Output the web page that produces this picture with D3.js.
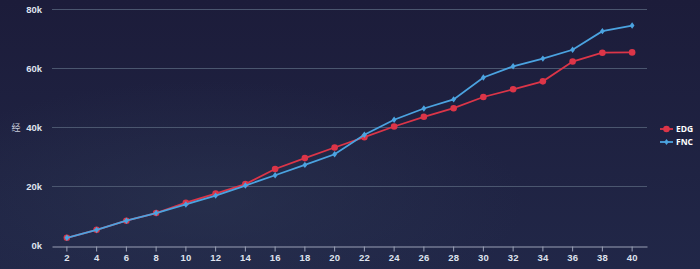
<!DOCTYPE html>
<html>
<head>
<meta charset="utf-8">
<script src="https://cdn.jsdelivr.net/npm/d3@7/dist/d3.min.js"></script>
<style>
  html, body { margin: 0; padding: 0; background: #1c1f3d; }
  svg { display: block; font-family: "Open Sans", "DejaVu Sans", sans-serif; }
</style>
</head>
<body>
<svg id="chart" width="700" height="269"></svg>
<script>
// Game minute markers and gold totals per team
const minutes = [2, 4, 6, 8, 10, 12, 14, 16, 18, 20, 22, 24, 26, 28, 30, 32, 34, 36, 38, 40];
const edgGold = [2600, 5300, 8400, 11000, 14500, 17600, 20800, 25900, 29600, 33200, 36700, 40300, 43600, 46500, 50300, 52900, 55600, 62300, 65300, 65400];
const fncGold = [2600, 5300, 8400, 11000, 13900, 16900, 20300, 23800, 27300, 30900, 37500, 42600, 46400, 49500, 56900, 60700, 63300, 66300, 72600, 74500];
const yTicks = [0, 20000, 40000, 60000, 80000];
const seriesNames = ["EDG", "FNC"];
const seriesColors = ["#dc3548", "#4ba3e0"];
const yTitle = "经";

const svg = d3.select("#chart");
const W = 700, H = 269;
const margin = { left: 52, right: 53, top: 9.3, bottom: 23.5 };

// Background
const defs = svg.append("defs");
const bg = defs.append("linearGradient").attr("id", "bg").attr("x1", 0).attr("y1", 0).attr("x2", 0).attr("y2", 1);
bg.append("stop").attr("offset", "0%").attr("stop-color", "#1c1c3a");
bg.append("stop").attr("offset", "100%").attr("stop-color", "#212748");
svg.append("rect").attr("width", W).attr("height", H).attr("fill", "url(#bg)");
const glow = defs.append("radialGradient").attr("id", "glow").attr("cx", 0.3).attr("cy", 0.75).attr("r", 0.45);
glow.append("stop").attr("offset", "0%").attr("stop-color", "#2e3a55").attr("stop-opacity", 0.45);
glow.append("stop").attr("offset", "100%").attr("stop-color", "#2e3a55").attr("stop-opacity", 0);
svg.append("rect").attr("width", W).attr("height", H).attr("fill", "url(#glow)");

const x = d3.scaleBand().domain(minutes).range([margin.left, W - margin.right]);
const y = d3.scaleLinear().domain([0, 80000]).range([H - margin.bottom, margin.top]);
const cx = d => x(d) + x.bandwidth() / 2;

// Horizontal grid lines
svg.append("g").selectAll("line").data(yTicks.filter(t => t > 0)).join("line")
  .attr("x1", margin.left).attr("x2", W - margin.right)
  .attr("y1", d => Math.round(y(d)) + 0.5).attr("y2", d => Math.round(y(d)) + 0.5)
  .attr("stroke", "#4b566f").attr("stroke-width", 1);

// Y axis labels
const yAxis = d3.axisLeft(y).tickValues(yTicks).tickSize(0).tickPadding(10)
  .tickFormat(d => (d / 1000) + "k");
const gy = svg.append("g").attr("transform", `translate(${margin.left},0)`).call(yAxis);
gy.select(".domain").remove();
gy.selectAll("text").attr("fill", "#dfe3ee").attr("font-size", 9.5).attr("font-weight", "bold");

// X axis
const xAxis = d3.axisBottom(x).tickSizeInner(5).tickSizeOuter(0).tickPadding(3);
const gx = svg.append("g").attr("transform", `translate(0,${Math.round(H - margin.bottom) + 0.5})`).call(xAxis);
gx.select(".domain").attr("stroke", "#9aa0b5").attr("stroke-width", 1.2);
gx.selectAll(".tick line").attr("stroke", "#9aa0b5");
gx.selectAll("text").attr("fill", "#dfe3ee").attr("font-size", 9.5).attr("font-weight", "bold");

// Y axis title
svg.append("text").attr("x", 16).attr("y", y(40000) + 3.5).attr("text-anchor", "middle")
  .attr("fill", "#c9cddb").attr("font-size", 9).attr("font-family", "Noto Sans CJK SC")
  .text(yTitle);

const line = d3.line().x((d, i) => cx(minutes[i])).y(d => y(d));
const diamond = (px, py, r) => `M${px},${py - r}L${px + r * 0.75},${py}L${px},${py + r}L${px - r * 0.75},${py}Z`;

// EDG series
const edg = svg.append("g");
edg.append("path").datum(edgGold).attr("d", line).attr("fill", "none")
  .attr("stroke", seriesColors[0]).attr("stroke-width", 1.8);
edg.selectAll("circle").data(edgGold).join("circle")
  .attr("cx", (d, i) => cx(minutes[i])).attr("cy", d => y(d)).attr("r", 3.3)
  .attr("fill", seriesColors[0]);

// FNC series
const fnc = svg.append("g");
fnc.append("path").datum(fncGold).attr("d", line).attr("fill", "none")
  .attr("stroke", seriesColors[1]).attr("stroke-width", 1.8);
fnc.selectAll("path.m").data(fncGold).join("path").attr("class", "m")
  .attr("d", (d, i) => diamond(cx(minutes[i]), y(d), 3.2))
  .attr("fill", seriesColors[1]);

// Legend
const legend = svg.append("g").selectAll("g").data(seriesNames).join("g")
  .attr("transform", (d, i) => `translate(660,${129 + i * 13})`);
legend.append("line").attr("x1", 0).attr("x2", 13).attr("y1", 0).attr("y2", 0)
  .attr("stroke", (d, i) => seriesColors[i]).attr("stroke-width", 1.8);
legend.each(function(d, i) {
  const g = d3.select(this);
  if (i === 0) g.append("circle").attr("cx", 6.5).attr("cy", 0).attr("r", 3.3).attr("fill", seriesColors[i]);
  else g.append("path").attr("d", diamond(6.5, 0, 3)).attr("fill", seriesColors[i]);
});
legend.append("text").attr("x", 16).attr("y", 3.3).attr("fill", "#ffffff")
  .attr("font-size", 8.5).attr("font-weight", "bold").text(d => d);
</script>
</body>
</html>
